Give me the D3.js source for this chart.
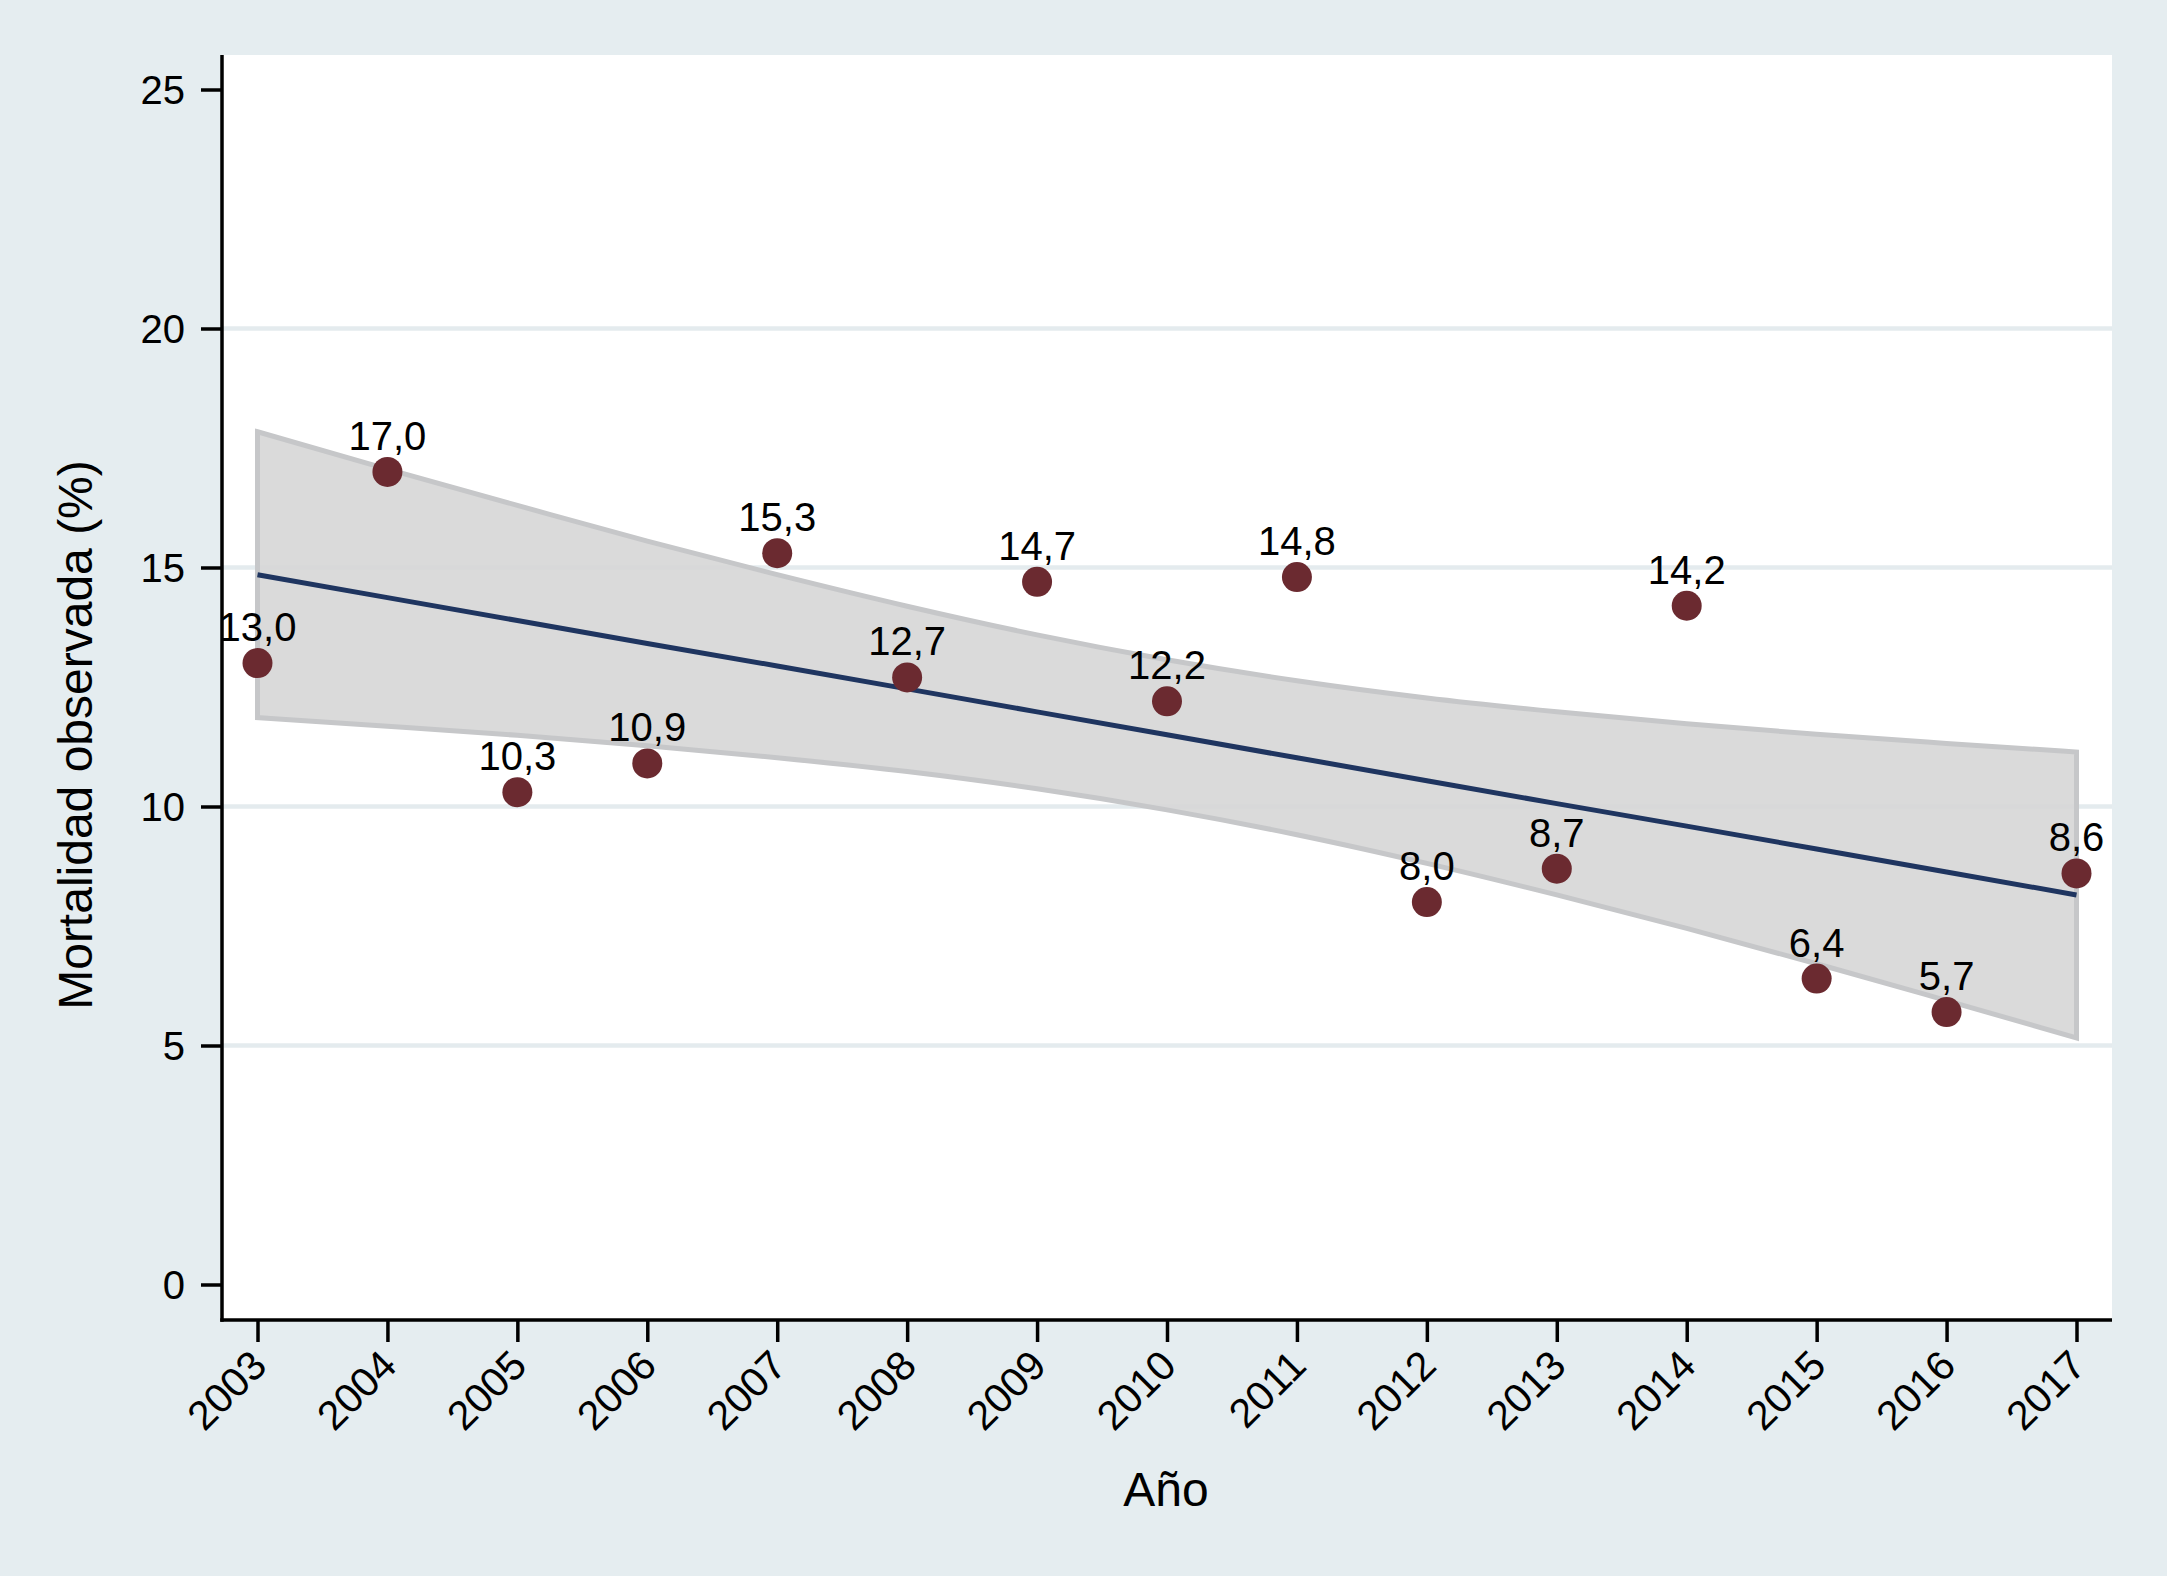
<!DOCTYPE html>
<html>
<head>
<meta charset="utf-8">
<script src="https://cdn.jsdelivr.net/npm/d3@7"></script>
<style>
  html, body { margin: 0; padding: 0; background: #e5edf0; }
  svg { display: block; }
  text { font-family: "Liberation Sans", Arial, Helvetica, sans-serif; fill: #000; }
</style>
</head>
<body>
<svg id="chart" width="2167" height="1576"></svg>
<script>
const years = [2003, 2004, 2005, 2006, 2007, 2008, 2009, 2010, 2011, 2012, 2013, 2014, 2015, 2016, 2017];
const mortality = [13.0, 17.0, 10.3, 10.9, 15.3, 12.7, 14.7, 12.2, 14.8, 8.0, 8.7, 14.2, 6.4, 5.7, 8.6];
const fitValues = [14.85, 14.37, 13.89, 13.41, 12.94, 12.46, 11.98, 11.50, 11.02, 10.54, 10.06, 9.59, 9.11, 8.63, 8.15];
const ciUpper = [17.84, 17.06, 16.30, 15.55, 14.85, 14.19, 13.59, 13.07, 12.63, 12.27, 11.98, 11.73, 11.51, 11.32, 11.14];
const ciLower = [11.86, 11.68, 11.49, 11.27, 11.02, 10.73, 10.37, 9.93, 9.41, 8.81, 8.15, 7.45, 6.71, 5.94, 5.16];
const yTicks = [0, 5, 10, 15, 20, 25];
const gridTicks = [5, 10, 15, 20];
const xTitle = "Año";
const yTitle = "Mortalidad observada (%)";

const W = 2167, H = 1576;
const plot = { left: 222, right: 2112, top: 55, bottom: 1320 };

const svg = d3.select("#chart");
svg.append("rect").attr("width", W).attr("height", H).attr("fill", "#e5edf0");
svg.append("rect")
  .attr("x", plot.left).attr("y", plot.top)
  .attr("width", plot.right - plot.left).attr("height", plot.bottom - plot.top)
  .attr("fill", "#ffffff");

const x = d3.scaleLinear().domain([2003, 2017]).range([257.5, 2076.5]);
const y = d3.scaleLinear().domain([0, 25]).range([1284.5, 89.5]);

// gridlines
svg.append("g").selectAll("line").data(gridTicks).join("line")
  .attr("x1", plot.left).attr("x2", plot.right)
  .attr("y1", d => y(d)).attr("y2", d => y(d))
  .attr("stroke", "#e4ebee").attr("stroke-width", 4.5);

// CI band
const bandData = years.map((yr, i) => ({ yr, lo: ciLower[i], hi: ciUpper[i] }));
const area = d3.area().x(d => x(d.yr)).y0(d => y(d.lo)).y1(d => y(d.hi)).curve(d3.curveMonotoneX);
svg.append("path").datum(bandData)
  .attr("d", area)
  .attr("fill", "#d6d6d6").attr("fill-opacity", 0.9)
  .attr("stroke", "#c6c7c9").attr("stroke-width", 5).attr("stroke-linejoin", "miter");

// fit line
const fitData = years.map((yr, i) => ({ yr, v: fitValues[i] }));
svg.append("path").datum(fitData)
  .attr("d", d3.line().x(d => x(d.yr)).y(d => y(d.v)))
  .attr("fill", "none").attr("stroke", "#1f3560").attr("stroke-width", 5);

// points
const pts = years.map((yr, i) => ({ yr, v: mortality[i] }));
svg.append("g").selectAll("circle").data(pts).join("circle")
  .attr("cx", d => x(d.yr)).attr("cy", d => y(d.v)).attr("r", 15)
  .attr("fill", "#6b2a30");

const fmt = v => d3.format(".1f")(v).replace(".", ",");
svg.append("g").selectAll("text").data(pts).join("text")
  .attr("x", d => x(d.yr)).attr("y", d => y(d.v) - 22)
  .attr("text-anchor", "middle")
  .attr("font-size", 40)
  .text(d => fmt(d.v));

// axes
const yAxis = d3.axisLeft(y).tickValues(yTicks).tickSize(21).tickPadding(16).tickFormat(d3.format("d"));
const gy = svg.append("g").attr("transform", `translate(${plot.left},0)`).call(yAxis);
gy.select(".domain").remove();
gy.selectAll(".tick line").attr("stroke", "#000").attr("stroke-width", 3.5);
gy.selectAll(".tick text").attr("font-size", 40).attr("dy", "0.36em")
  .attr("font-family", "'Liberation Sans', Arial, sans-serif");

const xAxis = d3.axisBottom(x).tickValues(years).tickSize(22).tickFormat(d3.format("d"));
const gx = svg.append("g").attr("transform", `translate(0,${plot.bottom})`).call(xAxis);
gx.select(".domain").remove();
gx.selectAll(".tick line").attr("stroke", "#000").attr("stroke-width", 3.5);
gx.selectAll(".tick text")
  .attr("font-size", 41)
  .attr("font-family", "'Liberation Sans', Arial, sans-serif")
  .attr("text-anchor", "end")
  .attr("dominant-baseline", "central")
  .attr("dy", null)
  .attr("y", null)
  .attr("transform", "translate(1,38) rotate(-45)");

// axis lines
svg.append("line")
  .attr("x1", plot.left).attr("x2", plot.left)
  .attr("y1", plot.top).attr("y2", plot.bottom + 1.75)
  .attr("stroke", "#000").attr("stroke-width", 3.5);
svg.append("line")
  .attr("x1", plot.left - 1.75).attr("x2", plot.right)
  .attr("y1", plot.bottom).attr("y2", plot.bottom)
  .attr("stroke", "#000").attr("stroke-width", 3.5);

// titles
svg.append("text")
  .attr("x", 1166).attr("y", 1506)
  .attr("text-anchor", "middle").attr("font-size", 48)
  .text(xTitle);
svg.append("text")
  .attr("transform", "translate(92,735) rotate(-90)")
  .attr("text-anchor", "middle").attr("font-size", 48)
  .text(yTitle);
</script>
</body>
</html>
